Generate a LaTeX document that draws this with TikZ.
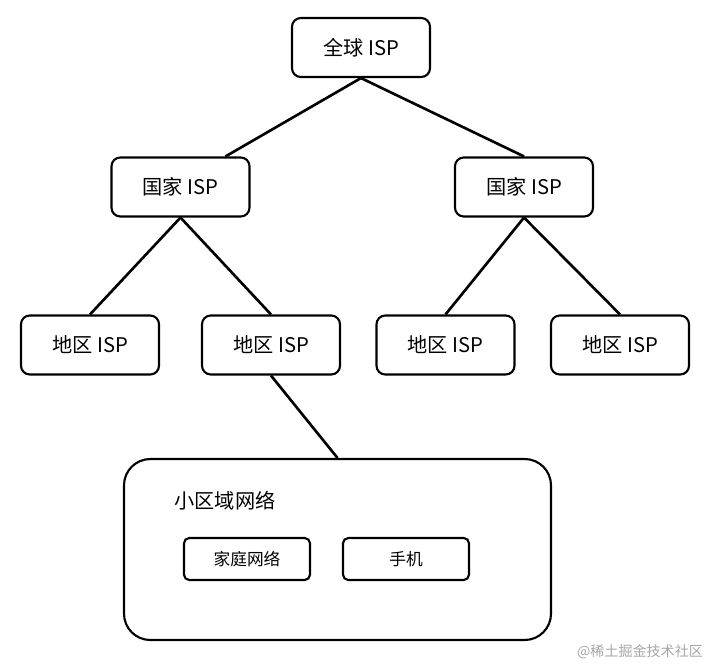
\documentclass[tikz,border=0pt]{standalone}
\usepackage{fontspec}
\setmainfont{Noto Sans CJK SC}
\usetikzlibrary{calc}
\tikzset{
  isp/.style={draw,line width=1.2pt,rounded corners=5pt,minimum width=138\unitpx,minimum height=59\unitpx,font=\fontsize{11.5}{13}\selectfont},
  dev/.style={draw,line width=1.2pt,rounded corners=3pt,minimum width=126\unitpx,minimum height=42\unitpx,font=\fontsize{9.5}{11}\selectfont},
  link/.style={line width=1.5pt}
}
\newlength{\unitpx}
\setlength{\unitpx}{0.02cm}
\begin{document}
\begin{tikzpicture}[x=0.02cm,y=-0.02cm]
  \useasboundingbox (0,0) rectangle (713,667);
  \node[isp] (global) at (361,47.5) {全球 ISP};
  \node[isp] (natL) at (180.5,187) {国家 ISP};
  \node[isp] (natR) at (524,187) {国家 ISP};
  \node[isp] (reg1) at (90,345) {地区 ISP};
  \node[isp] (reg2) at (271,345) {地区 ISP};
  \node[isp] (reg3) at (445.5,345) {地区 ISP};
  \node[isp] (reg4) at (620,345) {地区 ISP};
  \node[draw,line width=1.2pt,rounded corners=15pt,minimum width=427\unitpx,minimum height=181\unitpx] (area) at (337.5,549.5) {};
  \node[font=\fontsize{11.5}{13}\selectfont] (areaname) at (225,501) {小区域网络};
  \node[dev] (home) at (247,559) {家庭网络};
  \node[dev] (phone) at (406,559) {手机};
  \node[text=gray!70,font=\fontsize{8}{9}\selectfont] (mark) at (640,652) {@稀土掘金技术社区};
  % tree links
  \draw[link] (global.south) -- ($(natL.north)+(45,0)$);
  \draw[link] (global.south) -- (natR.north);
  \draw[link] (natL.south) -- (reg1.north);
  \draw[link] (natL.south) -- (reg2.north);
  \draw[link] (natR.south) -- (reg3.north);
  \draw[link] (natR.south) -- (reg4.north);
  \draw[link] (reg2.south) -- (area.north);
\end{tikzpicture}
\end{document}
